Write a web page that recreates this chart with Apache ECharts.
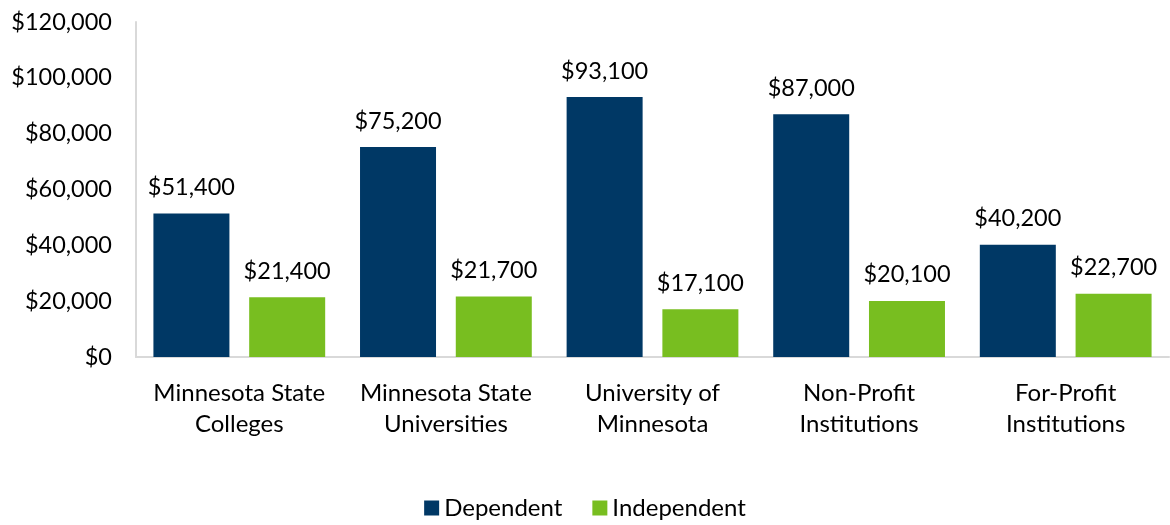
<!DOCTYPE html>
<html>
<head>
    <meta charset="utf-8">
    <script src="https://cdn.jsdelivr.net/npm/echarts@6/dist/echarts.min.js"></script>
    <style>
        body { margin: 0; background: #fff; }
        #main { width: 1170px; height: 525px; }
    </style>
</head>
<body>
    <div id="main"></div>
    <script type="text/javascript">
        var categories = ['Minnesota State\nColleges', 'Minnesota State\nUniversities', 'University of\nMinnesota', 'Non-Profit\nInstitutions', 'For-Profit\nInstitutions'];
        var dependent = [51400, 75200, 93100, 87000, 40200];
        var independent = [21400, 21700, 17100, 20100, 22700];

        function money(v) {
            return '$' + v.toString().replace(/\B(?=(\d{3})+(?!\d))/g, ',');
        }

        var font = 'Lato, "Open Sans", sans-serif';
        var myChart = echarts.init(document.getElementById('main'));
        myChart.setOption({
            animation: false,
            textStyle: { fontFamily: font },
            grid: { left: 136, right: 1, top: 22, bottom: 168 },
            legend: {
                data: ['Dependent', 'Independent'],
                bottom: 0,
                left: 'center',
                itemWidth: 15,
                itemHeight: 15,
                itemGap: 30,
                icon: 'rect',
                textStyle: { fontSize: 24, color: '#000', fontFamily: font }
            },
            xAxis: {
                type: 'category',
                data: categories,
                axisLine: { lineStyle: { color: '#d9d9d9', width: 2 } },
                axisTick: { show: false },
                axisLabel: { fontSize: 24, color: '#000', lineHeight: 31, margin: 21, interval: 0 }
            },
            yAxis: {
                type: 'value',
                min: 0,
                max: 120000,
                interval: 20000,
                axisLine: { show: true, lineStyle: { color: '#d9d9d9', width: 2 } },
                axisTick: { show: false },
                splitLine: { show: false },
                axisLabel: { fontSize: 23.5, color: '#000', margin: 24, formatter: money }
            },
            series: [
                {
                    name: 'Dependent',
                    type: 'bar',
                    data: dependent,
                    barWidth: 76,
                    barGap: '26%',
                    itemStyle: { color: '#003865' },
                    label: { show: true, position: 'top', distance: 14, fontSize: 23.5, color: '#000', formatter: function (p) { return money(p.value); } }
                },
                {
                    name: 'Independent',
                    type: 'bar',
                    data: independent,
                    barWidth: 76,
                    itemStyle: { color: '#78be20' },
                    label: { show: true, position: 'top', distance: 14, fontSize: 23.5, color: '#000', formatter: function (p) { return money(p.value); } }
                }
            ]
        });
    </script>
</body>
</html>
